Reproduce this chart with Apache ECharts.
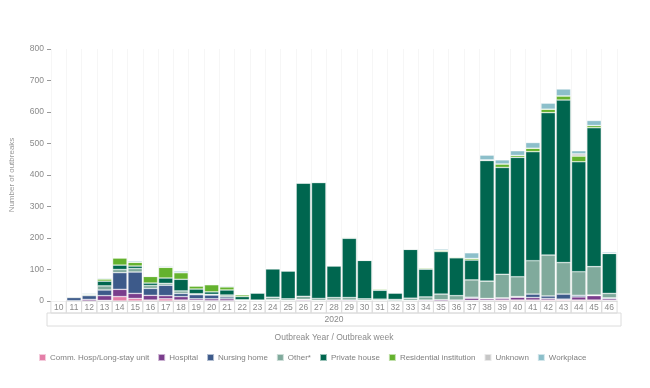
<!DOCTYPE html>
<html><head><meta charset="utf-8">
<script src="https://cdn.jsdelivr.net/npm/echarts@6/dist/echarts.min.js"></script>
<style>html,body{margin:0;padding:0;background:#fff}#c{width:650px;height:388px}</style>
</head><body><div id="c"></div>
<script>
const weeks = ['10','11','12','13','14','15','16','17','18','19','20','21','22','23','24','25','26','27','28','29','30','31','32','33','34','35','36','37','38','39','40','41','42','43','44','45','46'];
const yTicks = [0,100,200,300,400,500,600,700,800];
const commHosp    = [0,0,0,2,14,8,3,7,3,2,1,1,0,0,0,0,0,0,0,0,0,0,0,0,0,0,0,2,2,3,3,3,3,3,3,3,2];
const hospital    = [0,1,5,15,23,16,15,10,11,5,6,6,1,1,2,2,3,2,3,3,2,2,1,2,3,4,3,7,5,6,9,8,5,3,10,14,5];
const nursingHome = [1,10,12,18,53,68,22,33,10,13,12,6,1,0,2,0,2,0,0,0,0,0,0,0,0,0,0,3,1,1,2,11,8,16,5,2,3];
const other       = [1,3,5,13,10,11,9,6,8,3,2,6,2,2,8,5,10,6,8,8,5,4,4,7,10,18,14,55,55,75,63,106,130,100,75,90,14];
const privateHouse= [0,0,0,15,14,8,8,17,37,15,8,16,10,22,90,88,360,368,100,188,122,28,20,155,88,135,120,63,383,339,379,346,452,516,349,441,127];
const residential = [0,0,0,7,23,12,21,34,21,10,23,10,6,2,1,2,0,2,2,3,1,4,2,1,4,4,3,5,2,11,6,11,11,13,18,7,1];
const unknown     = [0,0,0,0,0,0,0,0,0,0,0,0,0,0,0,0,0,0,0,0,0,0,0,0,0,0,0,0,0,0,0,0,0,0,7,0,0];
const workplace   = [0,0,3,3,0,4,2,3,5,0,0,3,0,0,0,0,0,0,0,0,0,0,0,2,0,4,0,18,15,13,15,18,19,22,10,16,4];

const seriesDefs = [
  ['Comm. Hosp/Long-stay unit', commHosp, '#e47fa8'],
  ['Hospital', hospital, '#7a3d8c'],
  ['Nursing home', nursingHome, '#3d5a8a'],
  ['Other*', other, '#80aa9c'],
  ['Private house', privateHouse, '#00664f'],
  ['Residential institution', residential, '#64b22e'],
  ['Unknown', unknown, '#c6c6c6'],
  ['Workplace', workplace, '#8cbfca']
];

const chart = echarts.init(document.getElementById('c'));
const labelColor = '#8a8a8a';
chart.setOption({
  animation: false,
  textStyle: {fontFamily: 'Liberation Sans, Arial, sans-serif'},
  color: seriesDefs.map(s => s[2]),
  grid: {left: 45, right: 33, top: 49, bottom: 87},
  legend: {
    left: 33, top: 348, itemWidth: 7, itemHeight: 7, itemGap: 8,
    icon: 'rect',
    textStyle: {color: '#808080', fontSize: 8, padding: [0,0,0,-1]},
    data: seriesDefs.map(s => s[0])
  },
  xAxis: [{
    type: 'category', data: weeks, position: 'bottom',
    axisLine: {lineStyle: {color: '#d6d6d6'}},
    axisTick: {show: false},
    splitLine: {show: true, lineStyle: {color: '#f6f6f6'}},
    axisLabel: {
      interval: 0, color: labelColor, fontSize: 8.5, margin: 0,
      width: 15.46, height: 11, lineHeight: 11, align: 'center', verticalAlign: 'top',
      borderColor: '#dcdcdc', borderWidth: 1, padding: [1,0,0,0]
    }
  }, {
    type: 'category', data: ['2020'], position: 'bottom', offset: 12,
    axisLine: {show: false}, axisTick: {show: false},
    axisLabel: {
      color: labelColor, fontSize: 8.5, margin: 0, width: 574, height: 12,
      lineHeight: 12, align: 'center', verticalAlign: 'top',
      borderColor: '#dcdcdc', borderWidth: 1, padding: [1,0,0,0]
    },
    name: 'Outbreak Year / Outbreak week', nameLocation: 'middle', nameGap: 20,
    nameTextStyle: {color: labelColor, fontSize: 8.5}
  }],
  yAxis: {
    type: 'value', min: 0, max: 800, interval: 100,
    name: 'Number of outbreaks', nameLocation: 'middle', nameGap: 35,
    nameTextStyle: {color: '#999', fontSize: 8},
    axisLine: {show: false},
    axisTick: {show: true, length: 4, lineStyle: {color: '#999'}},
    splitLine: {show: false},
    axisLabel: {color: labelColor, fontSize: 8.5, margin: 7,
      formatter: v => yTicks.includes(v) ? String(v) : ''}
  },
  series: seriesDefs.map(s => ({
    name: s[0], type: 'bar', stack: 'total', data: s[1],
    barCategoryGap: '6%', xAxisIndex: 0,
    itemStyle: {borderColor: 'rgba(255,255,255,0.6)', borderWidth: 0.6}
  }))
});
</script></body></html>
